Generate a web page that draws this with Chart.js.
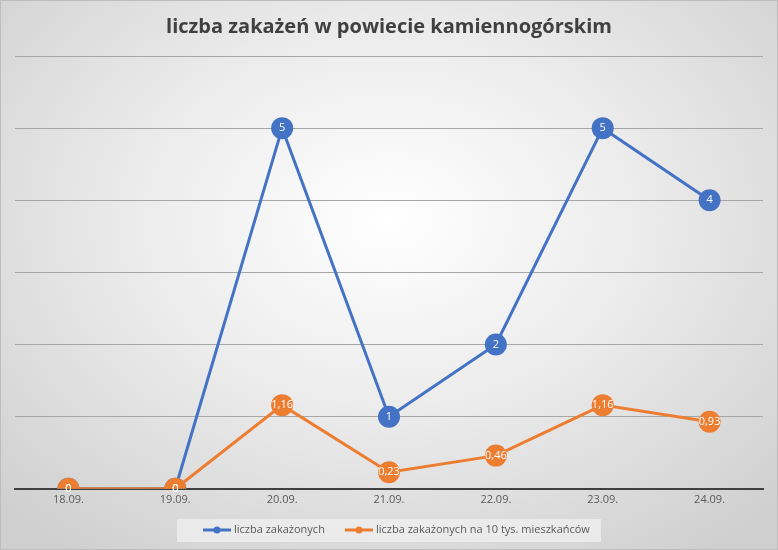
<!DOCTYPE html>
<html>
<head>
<meta charset="utf-8">
<script src="https://cdn.jsdelivr.net/npm/chart.js@4"></script>
<style>
    html, body { margin: 0; padding: 0; }
    body {
        width: 778px;
        height: 550px;
        overflow: hidden;
        background: radial-gradient(ellipse 70% 75% at 50% 40%, #ffffff 0%, #ececec 45%, #cfcfcf 100%);
        box-shadow: inset 0 0 0 1px #bdbdbd;
    }
    canvas { display: block; }
</style>
</head>
<body>
<canvas id="chart" width="778" height="550"></canvas>
<script>
// data
const dni = ['18.09.', '19.09.', '20.09.', '21.09.', '22.09.', '23.09.', '24.09.'];
const zakazeni = [0, 0, 5, 1, 2, 5, 4];
const na10tys = [0, 0, 1.16, 0.23, 0.46, 1.16, 0.93];

const tytul = 'liczba zakażeń w powiecie kamiennogórskim';

// title drawn on top
const titlePlugin = {
    id: 'titlePlugin',
    afterDraw(chart) {
        const c = chart.ctx;
        c.save();
        c.font = 'bold 20px "Open Sans", sans-serif';
        c.fillStyle = '#404040';
        c.textAlign = 'center';
        c.textBaseline = 'middle';
        c.fillText(tytul, 389, 27);
        c.restore();
    }
};

// values inside the circles
const labelsPlugin = {
    id: 'labelsPlugin',
    afterDatasetsDraw(chart) {
        const c = chart.ctx;
        c.save();
        c.font = '11px "Open Sans", sans-serif';
        c.fillStyle = '#ffffff';
        c.textAlign = 'center';
        c.textBaseline = 'middle';
        chart.data.datasets.forEach((ds, i) => {
            chart.getDatasetMeta(i).data.forEach((pt, j) => {
                const txt = String(ds.data[j]).replace('.', ',');
                c.fillText(txt, pt.x, pt.y);
            });
        });
        c.restore();
    }
};

// legend box at bottom
const legendPlugin = {
    id: 'legendPlugin',
    afterDraw(chart) {
        const c = chart.ctx;
        c.save();
        c.fillStyle = 'rgba(240,240,240,0.75)';
        c.fillRect(177, 519, 424, 23);
        c.font = '11px "Open Sans", sans-serif';
        c.textBaseline = 'middle';
        const xs = [203, 345];
        chart.data.datasets.forEach((ds, i) => {
            const x = xs[i], y = 530;
            c.strokeStyle = ds.borderColor;
            c.lineWidth = 3;
            c.beginPath();
            c.moveTo(x, y);
            c.lineTo(x + 28, y);
            c.stroke();
            c.fillStyle = ds.borderColor;
            c.beginPath();
            c.arc(x + 14, y, 3.5, 0, Math.PI * 2);
            c.fill();
            c.fillStyle = '#595959';
            c.fillText(ds.label, x + 31, y);
        });
        c.restore();
    }
};

new Chart(document.getElementById('chart'), {
    type: 'line',
    data: {
        labels: dni,
        datasets: [
            {
                label: 'liczba zakażonych',
                data: zakazeni,
                borderColor: '#4472C4',
                backgroundColor: '#4472C4',
                borderWidth: 3,
                pointRadius: 11,
                pointHoverRadius: 11,
                pointBorderWidth: 0,
                tension: 0,
                order: 1
            },
            {
                label: 'liczba zakażonych na 10 tys. mieszkańców',
                data: na10tys,
                borderColor: '#ED7D31',
                backgroundColor: '#ED7D31',
                borderWidth: 3,
                pointRadius: 11,
                pointHoverRadius: 11,
                pointBorderWidth: 0,
                tension: 0,
                order: 0
            }
        ]
    },
    options: {
        responsive: false,
        animation: false,
        layout: {
            padding: { top: 56, left: 15, right: 15, bottom: 40 }
        },
        plugins: {
            legend: { display: false },
            title: { display: false },
            tooltip: { enabled: false }
        },
        scales: {
            x: {
                offset: true,
                grid: { display: false, drawTicks: false },
                border: { color: '#404040', width: 2 },
                ticks: {
                    color: '#595959',
                    font: { size: 11, family: '"Open Sans", sans-serif' },
                    padding: 4,
                    maxRotation: 0
                }
            },
            y: {
                min: 0,
                max: 6,
                ticks: { display: false, stepSize: 1 },
                grid: { color: '#a6a6a6', drawTicks: false },
                border: { display: false }
            }
        }
    },
    plugins: [titlePlugin, labelsPlugin, legendPlugin]
});
</script>
</body>
</html>
